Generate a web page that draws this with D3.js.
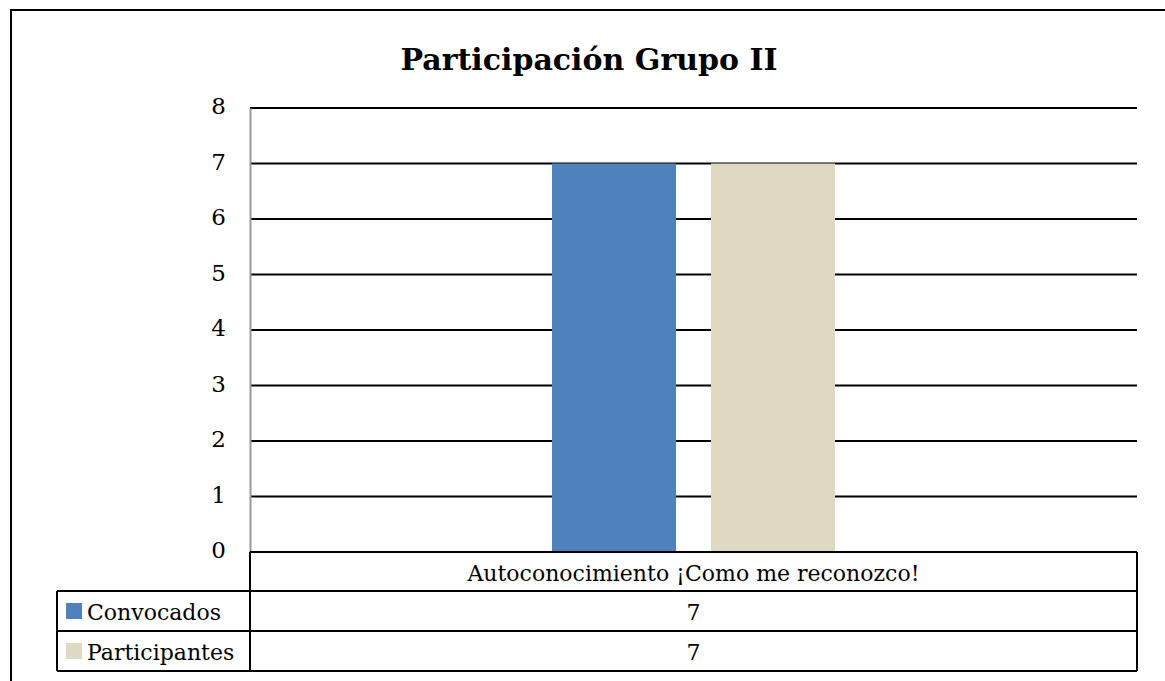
<!DOCTYPE html>
<html>
<head>
<meta charset="utf-8">
<script src="https://cdn.jsdelivr.net/npm/d3@7"></script>
<style>
  body { margin: 0; background: #fff; }
  svg text { font-family: "DejaVu Serif", "Liberation Serif", serif; fill: #000; }
</style>
</head>
<body>
<svg id="chart" width="1165" height="681"></svg>
<script>
// datos del grafico
var categories = ["Autoconocimiento ¡Como me reconozco!"];
var seriesNames = ["Convocados", "Participantes"];
var convocados = [7];
var participantes = [7];
var yTicks = [0, 1, 2, 3, 4, 5, 6, 7, 8];
var colors = ["#4f81bd", "#ddd9c3"];

var svg = d3.select("#chart");
var series = [convocados, participantes];

// marco exterior (recortado a la derecha y abajo)
svg.append("rect")
    .attr("x", 11).attr("y", 10)
    .attr("width", 1170).attr("height", 700)
    .attr("fill", "none").attr("stroke", "#000").attr("stroke-width", 2);

svg.append("text")
    .attr("x", 589).attr("y", 70)
    .attr("text-anchor", "middle")
    .attr("font-size", 30).attr("font-weight", "bold")
    .text("Participación Grupo II");

var plotLeft = 250, plotRight = 1137, plotTop = 108, plotBottom = 552;

var y = d3.scaleLinear().domain([0, 8]).range([plotBottom, plotTop]);
var x0 = d3.scaleBand().domain(categories).range([plotLeft, plotRight]);

// lineas de division
svg.append("g").selectAll("line")
    .data(yTicks.slice(1))
    .enter().append("line")
    .attr("x1", plotLeft).attr("x2", plotRight)
    .attr("y1", function(d) { return y(d); })
    .attr("y2", function(d) { return y(d); })
    .attr("stroke", "#000").attr("stroke-width", 2);

// eje y
var yAxis = svg.append("g")
    .attr("transform", "translate(" + plotLeft + ",0)")
    .call(d3.axisLeft(y).tickValues(yTicks).tickSize(0).tickPadding(24));
yAxis.select(".domain").attr("stroke", "#999").attr("stroke-width", 2);
yAxis.selectAll("text")
    .attr("font-size", 23)
    .attr("dy", "0.25em")
    .style("font-family", "DejaVu Serif");

// barras
var barW = 124, gap = 35;
categories.forEach(function(cat, ci) {
    var cx = x0(cat) + x0.bandwidth() / 2;
    series.forEach(function(vals, si) {
        var bx = cx - (barW * 2 + gap) / 2 + si * (barW + gap);
        svg.append("rect")
            .attr("x", bx).attr("y", y(vals[ci]))
            .attr("width", barW).attr("height", y(0) - y(vals[ci]))
            .attr("fill", colors[si]);
    });
});

// tabla de datos
var rowH = 40, legendLeft = 57;
var rows = [plotBottom, plotBottom + 39, plotBottom + 39 + rowH, plotBottom + 39 + rowH * 2];
var tbl = svg.append("g").attr("stroke", "#000").attr("stroke-width", 2).attr("fill", "none");
tbl.append("line").attr("x1", plotLeft).attr("x2", plotRight).attr("y1", rows[0]).attr("y2", rows[0]);
tbl.append("line").attr("x1", legendLeft).attr("x2", plotRight).attr("y1", rows[1]).attr("y2", rows[1]);
tbl.append("line").attr("x1", legendLeft).attr("x2", plotRight).attr("y1", rows[2]).attr("y2", rows[2]);
tbl.append("line").attr("x1", legendLeft).attr("x2", plotRight).attr("y1", rows[3]).attr("y2", rows[3]);
tbl.append("line").attr("x1", plotLeft).attr("x2", plotLeft).attr("y1", rows[0]).attr("y2", rows[3]);
tbl.append("line").attr("x1", plotRight).attr("x2", plotRight).attr("y1", rows[0]).attr("y2", rows[3]);
tbl.append("line").attr("x1", legendLeft).attr("x2", legendLeft).attr("y1", rows[1]).attr("y2", rows[3]);

categories.forEach(function(cat) {
    var cx = x0(cat) + x0.bandwidth() / 2;
    svg.append("text")
        .attr("x", cx).attr("y", rows[0] + 29)
        .attr("text-anchor", "middle").attr("font-size", 22)
        .text(cat);
});

seriesNames.forEach(function(name, si) {
    var ry = rows[1 + si];
    svg.append("rect")
        .attr("x", legendLeft + 9).attr("y", ry + 12)
        .attr("width", 16).attr("height", 16)
        .attr("fill", colors[si]);
    svg.append("text")
        .attr("x", legendLeft + 30).attr("y", ry + 29)
        .attr("font-size", 22)
        .text(name);
    categories.forEach(function(cat, ci) {
        svg.append("text")
            .attr("x", x0(cat) + x0.bandwidth() / 2).attr("y", ry + 29)
            .attr("text-anchor", "middle").attr("font-size", 22)
            .text(series[si][ci]);
    });
});
</script>
</body>
</html>
